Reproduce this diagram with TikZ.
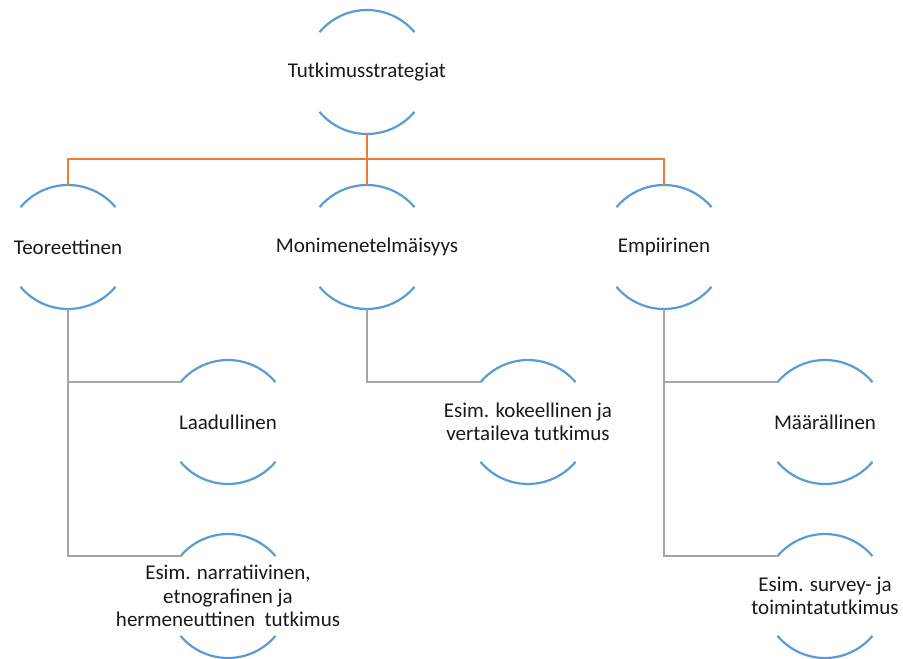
\documentclass[tikz,border=0pt]{standalone}
\usepackage{fontspec}
\setmainfont{Carlito}
\definecolor{arcblue}{HTML}{5B9BD5}
\definecolor{busorange}{HTML}{ED7D31}
\definecolor{linkgrey}{HTML}{A5A5A5}
\begin{document}
\begin{tikzpicture}[x=1pt,y=1pt,
  ring/.style={circle,minimum size=124pt,inner sep=0pt,outer sep=0pt},
  ringtext/.style={inner sep=0pt,align=center,
    font=\fontsize{21pt}{23.5pt}\selectfont,text=black!90},
  arcline/.style={draw=arcblue,line width=2.2pt},
  orangelink/.style={draw=busorange,line width=2pt},
  greylink/.style={draw=linkgrey,line width=2.2pt}]
\useasboundingbox (0,0) rectangle (903,-659);
\node[ring] (top) at (367,-72) {};
\node[ring] (teo) at (68,-247) {};
\node[ring] (mon) at (367,-247) {};
\node[ring] (emp) at (664,-247) {};
\node[ring] (laa) at (228,-422) {};
\node[ring] (nar) at (228,-596) {};
\node[ring] (kok) at (528,-422) {};
\node[ring] (maa) at (825,-422) {};
\node[ring] (sur) at (825,-596) {};
\node[ringtext] (top-t) at (top) {Tutkimusstrategiat};
\node[ringtext] (teo-t) at (teo) {Teoreettinen};
\node[ringtext] (mon-t) at (mon) {Monimenetelmäisyys};
\node[ringtext] (emp-t) at (emp) {Empiirinen};
\node[ringtext] (laa-t) at (laa) {Laadullinen};
\node[ringtext] (nar-t) at (nar) {Esim. narratiivinen,\\etnografinen ja\\hermeneuttinen\ \ tutkimus};
\node[ringtext] (kok-t) at (kok) {Esim. kokeellinen ja\\vertaileva tutkimus};
\node[ringtext] (maa-t) at (maa) {Määrällinen};
\node[ringtext] (sur-t) at (sur) {Esim. survey- ja\\toimintatutkimus};
\foreach \n in {top,teo,mon,emp,laa,nar,kok,maa,sur}{
  \draw[arcline] (\n.40) arc[start angle=40,end angle=140,radius=62pt];
  \draw[arcline] (\n.220) arc[start angle=220,end angle=320,radius=62pt];
}
\coordinate (bus) at (0,-159);
\draw[orangelink] (teo.north) -- (teo.north |- bus) -- (emp.north |- bus) -- (emp.north);
\draw[orangelink] (top.south) -- (mon.north);
\draw[greylink] (teo.south) |- (laa.140);
\draw[greylink] (teo.south) |- (nar.140);
\draw[greylink] (mon.south) |- (kok.140);
\draw[greylink] (emp.south) |- (maa.140);
\draw[greylink] (emp.south) |- (sur.140);
\end{tikzpicture}
\end{document}
